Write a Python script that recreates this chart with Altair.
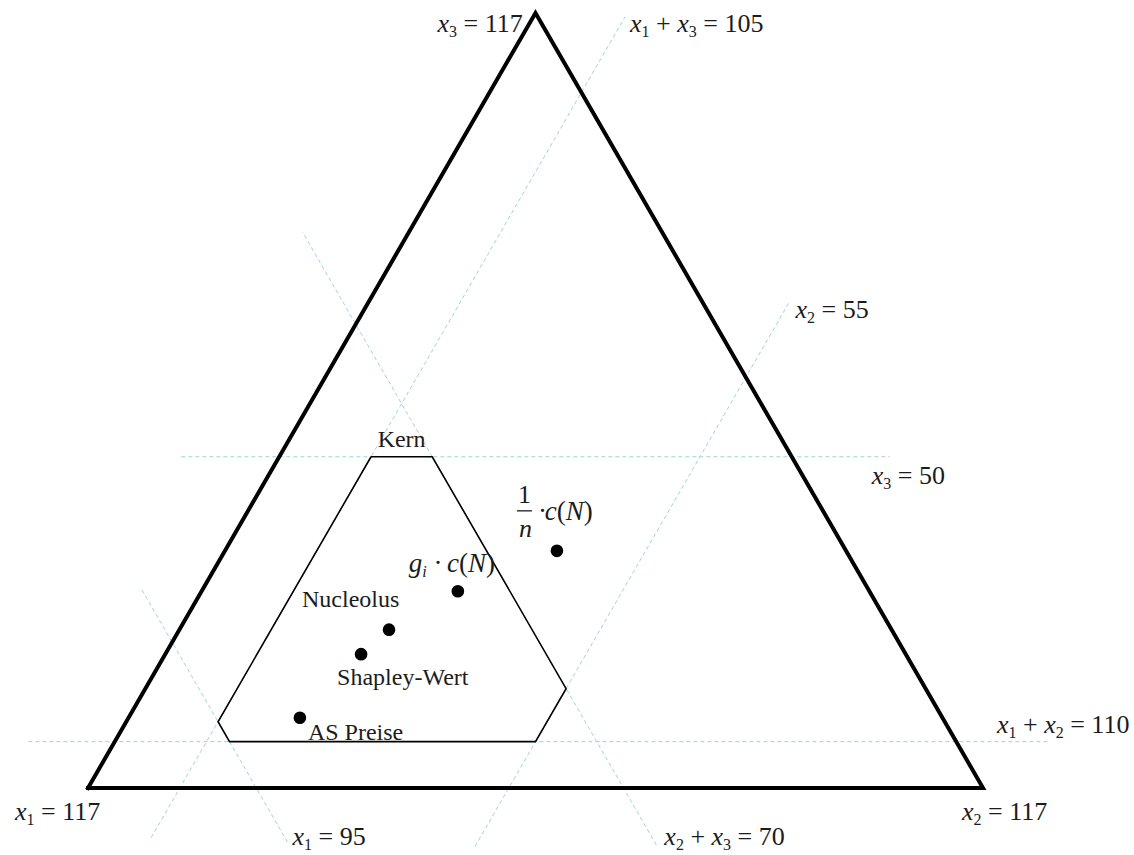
import math

import altair as alt
import pandas as pd

# ---------------------------------------------------------------------------
# Cost game with three players: c(N) and the coalition costs
# ---------------------------------------------------------------------------
TOTAL = 117                      # c(N)
player_caps = [95, 55, 50]       # c({1}), c({2}), c({3})
pair_caps = [70, 105, 110]       # c({2,3}), c({1,3}), c({1,2})

# Allocation concepts (x1, x2, x3)
concept_names = ["AS Preise", "Shapley-Wert", "Nucleolus", "g_i·c(N)", "1/n·c(N)"]
concept_x1 = [84.0, 71.2, 65.7, 53.8, 37.8]
concept_x2 = [22.4, 25.6, 27.4, 33.5, 43.4]
concept_x3 = [10.6, 20.2, 23.9, 29.7, 35.8]

# lower bounds implied by the pair costs: x_i >= c(N) - c(N \ {i})
lower = [TOTAL - pair_caps[0], TOTAL - pair_caps[1], TOTAL - pair_caps[2]]

# ---------------------------------------------------------------------------
# Drawing frame (barycentric -> cartesian)
# ---------------------------------------------------------------------------
W, H = 1134, 855
LEFT_PX, BASE_PX, SIDE_PX = 88, 788, 895
PX = SIDE_PX / TOTAL              # pixels per cost unit
SQ = math.sqrt(3) / 2
XDOM = [-LEFT_PX / PX, (W - LEFT_PX) / PX]
YDOM = [-(H - BASE_PX) / PX, BASE_PX / PX]

INK = "#1c1c1c"
GUIDE = "#9fd3dc"
SERIF = "Liberation Serif"


def cart(b):
    """(x1, x2, x3) -> (X, Y) with x1 at the lower left, x2 lower right, x3 on top."""
    return b[1] + b[2] / 2, SQ * b[2]


def point_on(k, v, j, t):
    """Point with coordinate k fixed to v and coordinate j set to t."""
    b = [0.0, 0.0, 0.0]
    b[k] = v
    b[j] = t
    b[3 - k - j] = TOTAL - v - t
    return b


# ---------------------------------------------------------------------------
# Text setting helpers (Times metrics)
# ---------------------------------------------------------------------------
ROMAN = {" ": .25, "=": .564, "+": .564, "(": .333, ")": .333, "·": .25, "-": .333}
ITALIC = {"x": .444, "g": .5, "c": .444, "N": .667, "n": .5, "i": .278}


def run_width(txt, italic, size):
    table = ITALIC if italic else ROMAN
    return sum(table.get(ch, 0.5) for ch in txt) * size


def set_tokens(tokens, size=26, sub=16, drop=5):
    out, cur = [], 0.0
    for kind, txt in tokens:
        is_sub = kind in ("sub", "isub")
        italic = kind in ("i", "isub")
        fs = sub if is_sub else size
        core = txt.strip(" ")
        if not core:
            cur += run_width(txt, False, fs)
            continue
        lead = len(txt) - len(txt.lstrip(" "))
        trail = len(txt) - len(txt.rstrip(" "))
        cur += run_width(" " * lead, False, fs)
        out.append(dict(text=core, italic=italic, fs=fs, dx=cur, dy=drop if is_sub else 0))
        cur += run_width(core, italic, fs) + run_width(" " * trail, False, fs)
    return out


def equation(players, value):
    toks = []
    for n, p in enumerate(players):
        if n:
            toks.append(("r", " + "))
        toks += [("i", "x"), ("sub", str(p))]
    toks.append(("r", f" = {value}"))
    return toks


text_rows = []


def place(pieces, anchor, dx, dy):
    ax, ay = anchor
    for p in pieces:
        text_rows.append(dict(
            X=ax + (dx + p["dx"]) / PX,
            Y=ay - (dy + p["dy"]) / PX,
            text=p["text"], fs=p["fs"], italic=p["italic"],
        ))


# ---------------------------------------------------------------------------
# Geometry
# ---------------------------------------------------------------------------
corners = [(TOTAL, 0, 0), (0, TOTAL, 0), (0, 0, TOTAL)]
tri = pd.DataFrame([dict(zip(("X", "Y"), cart(c)), k=i) for i, c in enumerate(corners + corners[:1])])

# vertex labels
place(set_tokens(equation([1], TOTAL)), cart(corners[0]), -73, 32)
place(set_tokens(equation([2], TOTAL)), cart(corners[1]), -21, 32)
place(set_tokens(equation([3], TOTAL)), cart(corners[2]), -98, 19)

# constraint guide lines: fixed coordinate k = v, running along coordinate j
guides = [
    dict(k=2, v=player_caps[2], j=1, span=(-12.8, 79.8), lab=equation([3], player_caps[2]), end=1, off=(-18, 27)),
    dict(k=2, v=lower[2], j=1, span=(-11.3, 122.25), lab=equation([1, 2], pair_caps[2]), end=1, off=(-53, -9)),
    dict(k=0, v=player_caps[0], j=2, span=(-8.15, 29.9), lab=equation([1], player_caps[0]), end=0, off=(5, 3)),
    dict(k=1, v=lower[1], j=2, span=(-7.5, 116.4), lab=equation([1, 3], pair_caps[1]), end=1, off=(5, 15)),
    dict(k=1, v=player_caps[1], j=2, span=(-8.8, 73.4), lab=equation([2], player_caps[1]), end=1, off=(6, 16)),
    dict(k=0, v=lower[0], j=2, span=(-8.6, 83.9), lab=equation([2, 3], pair_caps[0]), end=0, off=(8, 0)),
]
guide_rows = []
for g in guides:
    p0 = cart(point_on(g["k"], g["v"], g["j"], g["span"][0]))
    p1 = cart(point_on(g["k"], g["v"], g["j"], g["span"][1]))
    guide_rows.append(dict(X=p0[0], Y=p0[1], X2=p1[0], Y2=p1[1]))
    place(set_tokens(g["lab"]), (p0, p1)[g["end"]], *g["off"])
guide_df = pd.DataFrame(guide_rows)

# core (Kern): hexagon cut out by the six constraints
hi = player_caps
corner_pairs = [
    (2, hi[2], 1, lower[1]), (2, hi[2], 0, lower[0]), (0, lower[0], 1, hi[1]),
    (1, hi[1], 2, lower[2]), (2, lower[2], 0, hi[0]), (0, hi[0], 1, lower[1]),
]
core_pts = []
for k, v, j, t in corner_pairs:
    b = [0.0, 0.0, 0.0]
    b[k], b[j] = v, t
    b[3 - k - j] = TOTAL - v - t
    core_pts.append(cart(b))
core_df = pd.DataFrame([dict(X=p[0], Y=p[1], k=i) for i, p in enumerate(core_pts + core_pts[:1])])

top_mid = ((core_pts[0][0] + core_pts[1][0]) / 2, core_pts[0][1])
place(set_tokens([("r", "Kern")], size=24), top_mid, -run_width("Kern", False, 24) / 2, -10)

# allocation points
pts = [cart(b) for b in zip(concept_x1, concept_x2, concept_x3)]
dots_df = pd.DataFrame(dict(name=concept_names, X=[p[0] for p in pts], Y=[p[1] for p in pts]))

place(set_tokens([("r", concept_names[0])], size=24), pts[0], 8, 22)
place(set_tokens([("r", concept_names[1])], size=24), pts[1], -24, 31)
place(set_tokens([("r", concept_names[2])], size=24), pts[2], -87, -23)
place(set_tokens([("i", "g"), ("isub", "i"), ("r", " · "), ("i", "c"), ("r", "("), ("i", "N"), ("r", ")")],
                 size=27), pts[3], -49, -19)

# 1/n · c(N) with a stacked fraction
place(set_tokens([("r", "1")], size=26), pts[4], -39, -48)
place(set_tokens([("i", "n")], size=26), pts[4], -38, -14)
place(set_tokens([("r", "·"), ("i", "c"), ("r", "("), ("i", "N"), ("r", ")")], size=27), pts[4], -19, -31)
bar_df = pd.DataFrame([dict(X=pts[4][0] - 40 / PX, X2=pts[4][0] - 25 / PX,
                            Y=pts[4][1] + 40 / PX, Y2=pts[4][1] + 40 / PX)])

text_df = pd.DataFrame(text_rows)
roman_df = text_df[~text_df["italic"]].drop(columns="italic")
italic_df = text_df[text_df["italic"]].drop(columns="italic")

# ---------------------------------------------------------------------------
# Chart
# ---------------------------------------------------------------------------
xs = alt.Scale(domain=XDOM, nice=False, zero=False)
ys = alt.Scale(domain=YDOM, nice=False, zero=False)
X = alt.X("X:Q", scale=xs, axis=None)
Y = alt.Y("Y:Q", scale=ys, axis=None)

guide_layer = alt.Chart(guide_df).mark_rule(color=GUIDE, strokeWidth=1, strokeDash=[4, 3]).encode(
    x=X, y=Y, x2="X2:Q", y2="Y2:Q")
core_layer = alt.Chart(core_df).mark_line(color="black", strokeWidth=1.6, strokeJoin="miter").encode(
    x=X, y=Y, order="k:Q")
tri_layer = alt.Chart(tri).mark_line(color="black", strokeWidth=4, strokeJoin="miter", strokeCap="square").encode(
    x=X, y=Y, order="k:Q")
dot_layer = alt.Chart(dots_df).mark_circle(color="black", opacity=1, size=160).encode(x=X, y=Y)
bar_layer = alt.Chart(bar_df).mark_rule(color=INK, strokeWidth=1.3).encode(x=X, y=Y, x2="X2:Q", y2="Y2:Q")

text_common = dict(font=SERIF, align="left", baseline="alphabetic", color=INK)
roman_layer = alt.Chart(roman_df).mark_text(**text_common).encode(
    x=X, y=Y, text="text:N", size=alt.Size("fs:Q", scale=None))
italic_layer = alt.Chart(italic_df).mark_text(fontStyle="italic", **text_common).encode(
    x=X, y=Y, text="text:N", size=alt.Size("fs:Q", scale=None))

chart = alt.layer(
    guide_layer, core_layer, tri_layer, dot_layer, bar_layer, roman_layer, italic_layer
).properties(
    width=W, height=H, padding=0, background="white",
    autosize=alt.AutoSizeParams(type="none"),
).configure_view(stroke=None)

chart.save("out.html", embed_options={"renderer": "svg", "actions": False})
